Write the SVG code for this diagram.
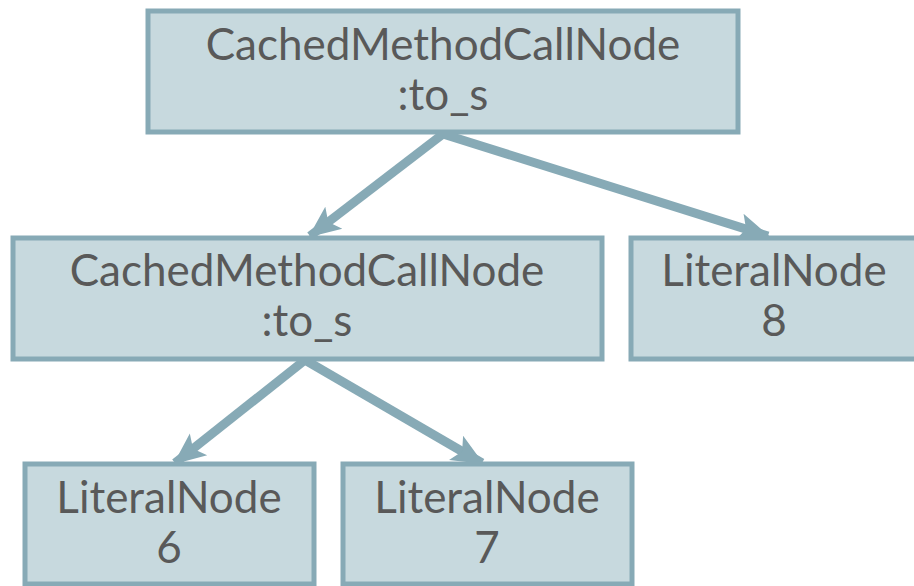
<svg xmlns="http://www.w3.org/2000/svg" width="914" height="586" viewBox="0 0 914 586">
<defs>
<style>
.box{fill:#C7D9DE;stroke:#87AAB6;stroke-width:5}
.t{font-family:Lato,"Open Sans",sans-serif;font-size:44px;fill:#595959;text-anchor:middle}
.edge{stroke:#87AAB6;stroke-width:9;fill:none}
</style>
<marker id="ah" markerUnits="userSpaceOnUse" markerWidth="34" markerHeight="34" viewBox="0 0 34 34" refX="30" refY="17" orient="auto">
<path d="M0,3 L32,17 L0,31 L7,17 Z" fill="#87AAB6"/>
</marker>
</defs>
<rect width="914" height="586" fill="#FFFFFF"/>
<g id="connectors">
<line class="edge" x1="443" y1="134" x2="310" y2="236" marker-end="url(#ah)"/>
<line class="edge" x1="443" y1="134" x2="768" y2="236" marker-end="url(#ah)"/>
<line class="edge" x1="305" y1="360" x2="175" y2="463" marker-end="url(#ah)"/>
<line class="edge" x1="305" y1="360" x2="482" y2="463" marker-end="url(#ah)"/>
</g>
<g id="n1">
<rect class="box" x="148" y="11" width="590" height="121"/>
<text class="t" x="443" y="60">CachedMethodCallNode</text>
<text class="t" x="443" y="110">:to_s</text>
</g>
<g id="n2">
<rect class="box" x="13" y="238" width="589" height="121"/>
<text class="t" x="307" y="286">CachedMethodCallNode</text>
<text class="t" x="307" y="336">:to_s</text>
</g>
<g id="n3">
<rect class="box" x="631" y="238" width="290" height="121"/>
<text class="t" x="774" y="286">LiteralNode</text>
<text class="t" x="774" y="336">8</text>
</g>
<g id="n4">
<rect class="box" x="25" y="464" width="289" height="120"/>
<text class="t" x="169" y="513">LiteralNode</text>
<text class="t" x="169" y="563">6</text>
</g>
<g id="n5">
<rect class="box" x="343" y="464" width="289" height="120"/>
<text class="t" x="487" y="513">LiteralNode</text>
<text class="t" x="487" y="563">7</text>
</g>
</svg>
